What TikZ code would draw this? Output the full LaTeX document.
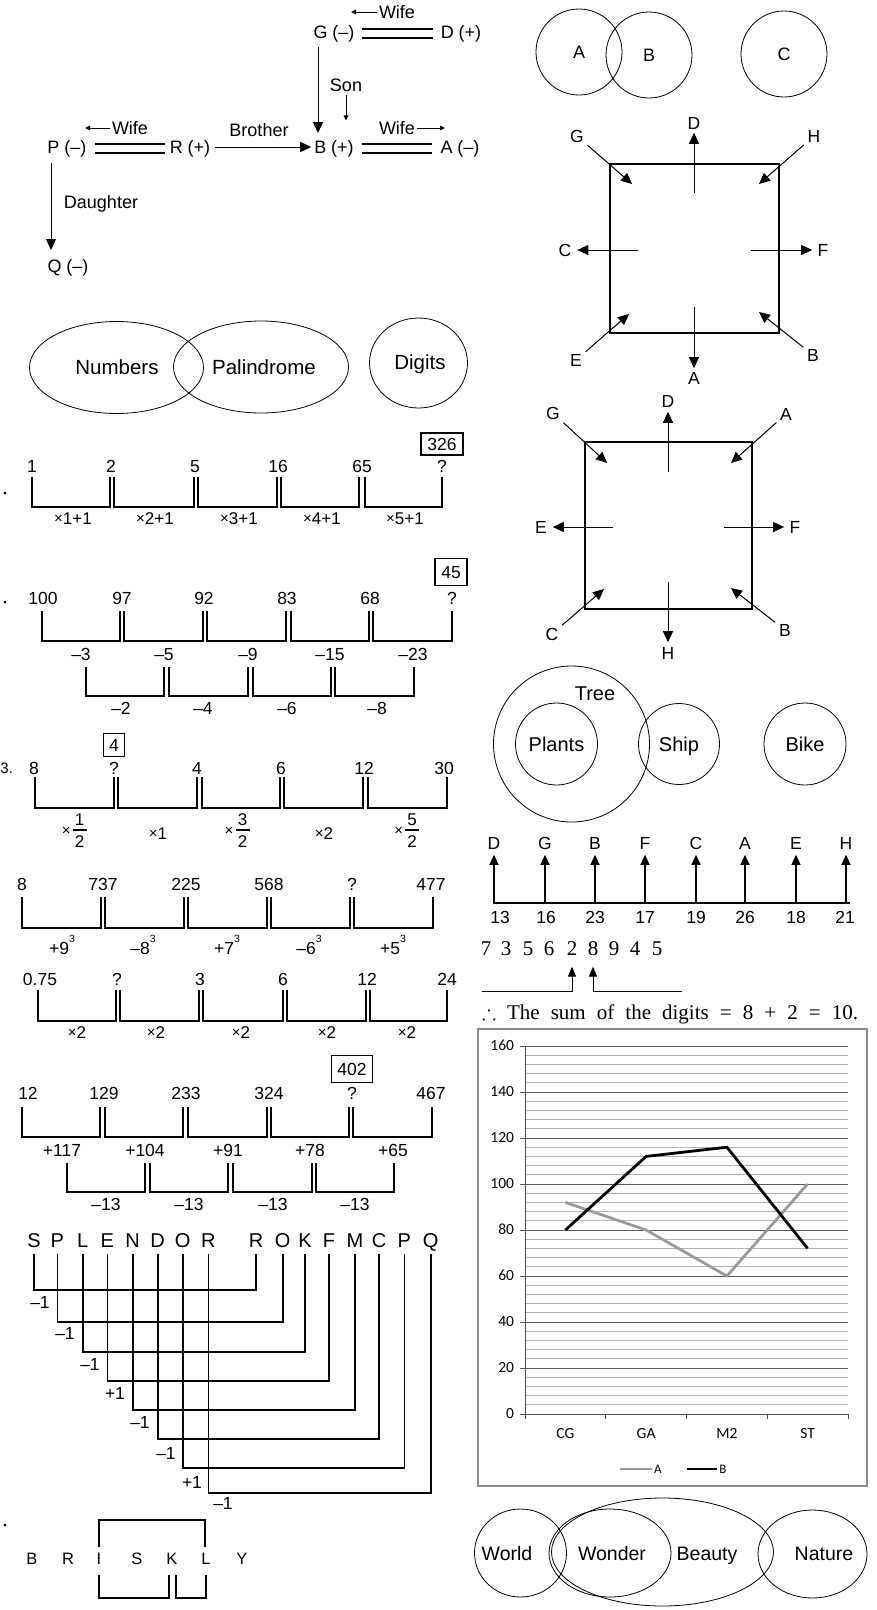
\documentclass[tikz,border=0pt]{standalone}
\usepackage{amssymb}
\usepackage{fontspec}
\setmainfont{Liberation Sans}
\newfontfamily\serifff{Liberation Serif}
\newfontfamily\calib{Carlito}
\usetikzlibrary{arrows.meta}
\newcommand\fsz[1]{\fontsize{#1}{#1}\selectfont}
\newcommand\tms{{\fsz{15}\raisebox{0.6pt}{×}}}
\newcommand\cube{\raisebox{12pt}{\fsz{10.5}3}}
\tikzset{
  every node/.style={inner sep=0pt,outer sep=0pt},
  fs/.style={font=\fsz{#1},text height={0.72*#1pt},text depth=0pt},
  cf/.style={font=\calib\fsz{#1},text height={0.63*#1pt},text depth=0pt},
  sf/.style={font=\serifff\fsz{#1},text height={0.68*#1pt},text depth=0pt},
  br/.style={line width=1.6pt},
  brk/.style={line width=1.9pt},
  dbl/.style={line width=1.3pt},
  bigarr/.style={line width=1pt,-{Triangle[length=11pt,width=10pt]}},
  smarr/.style={line width=0.9pt,-{Triangle[length=5pt,width=4.5pt]}},
  sqarr/.style={line width=1pt,-{Triangle[length=11pt,width=10pt]}},
  rowarr/.style={line width=1.2pt,-{Triangle[length=10pt,width=9pt]}},
  digarr/.style={line width=1pt,-{Triangle[length=10pt,width=8pt]}},
  sq/.style={line width=1.7pt},
  thin/.style={line width=0.8pt},
  ansbox/.style 2 args={draw,line width=1.2pt,minimum width=#1,minimum height=#2},
}
\begin{document}
\begin{tikzpicture}[x=1pt,y=-1pt]
\useasboundingbox (0,0) rectangle (876,1610);
\fill[white] (0,0) rectangle (876,1610);

% ---------------- family tree ----------------
\node[fs=18] (G) at (334,32) {G (–)};
\node[fs=18] (D) at (461,32) {D (+)};
\node[fs=18] (W1) at (397,12) {Wife};
\draw[smarr] ([xshift=-2pt]W1.west) -- ++(-26pt,0pt);
\draw[dbl] ([xshift=7pt,yshift=3pt]G.east) -- ([xshift=-8pt,yshift=3pt]D.west);
\draw[dbl] ([xshift=7pt,yshift=-6pt]G.east) -- ([xshift=-8pt,yshift=-6pt]D.west);
\node[fs=18] (Son) at (346,85) {Son};
\draw[smarr] ([yshift=-4pt]Son.south) -- ([yshift=-29pt]Son.south);
\node[fs=18] (P) at (67,147) {P (–)};
\node[fs=18] (R) at (190,147) {R (+)};
\node[fs=18] (B) at (334,147) {B (+)};
\node[fs=18] (A) at (460,147) {A (–)};
\node[fs=18] (Q) at (68,266) {Q (–)};
\draw[bigarr] ([xshift=-16pt,yshift=-8.5pt]G.south) -- ([xshift=-16pt,yshift=7.5pt]B.north);
\draw[dbl] ([xshift=8.5pt,yshift=3pt]P.east) -- ([xshift=-4.5pt,yshift=3pt]R.west);
\draw[dbl] ([xshift=8.5pt,yshift=-6pt]P.east) -- ([xshift=-4.5pt,yshift=-6pt]R.west);
\node[fs=18] (W2) at (130,128) {Wife};
\draw[smarr] ([xshift=-2pt]W2.west) -- ++(-25pt,0pt);
\draw[bigarr] ([xshift=5pt]R.east) -- ([xshift=-3pt]B.west);
\node[fs=18] (Bro) at (259,130) {Brother};
\draw[dbl] ([xshift=8pt,yshift=3pt]B.east) -- ([xshift=-8.5pt,yshift=3pt]A.west);
\draw[dbl] ([xshift=8pt,yshift=-6pt]B.east) -- ([xshift=-8.5pt,yshift=-6pt]A.west);
\node[fs=18] (W3) at (397,128) {Wife};
\draw[smarr] ([xshift=2pt]W3.east) -- ++(28pt,0pt);
\draw[bigarr] ([xshift=-16pt,yshift=-9.5pt]P.south) -- ([xshift=-17pt,yshift=9.5pt]Q.north);
\node[fs=18] (Dau) at (101,202) {Daughter};

% ---------------- top right circles ----------------
\node[draw,thin,circle,minimum size=86pt,fs=18] (cA) at (579,52) {A};
\node[draw,thin,circle,minimum size=86pt,fs=18] (cB) at (649,55) {B};
\node[draw,thin,circle,minimum size=86pt,fs=18] (cC) at (784,54) {C};

% ---------------- square 1 ----------------
\draw[sq] (610,164) rectangle (779,333);
\node[fs=17.5] (s1D) at (694,123) {D};
\node[fs=17.5] (s1G) at (577,136) {G};
\node[fs=17.5] (s1H) at (814,136) {H};
\node[fs=17.5] (s1C) at (565,250) {C};
\node[fs=17.5] (s1F) at (823,250) {F};
\node[fs=17.5] (s1E) at (576,360) {E};
\node[fs=17.5] (s1B) at (813,355) {B};
\node[fs=17.5] (s1A) at (694,378) {A};
\coordinate (s1d) at (694,193);
\coordinate (s1g) at (632,184);
\coordinate (s1h) at (759,184);
\coordinate (s1c) at (638,250);
\coordinate (s1f) at (751,250);
\coordinate (s1e) at (629,314);
\coordinate (s1b) at (759,312);
\coordinate (s1a) at (694,307);
\draw[sqarr,shorten >=3.5pt] (s1d) -- (s1D);
\draw[sqarr,shorten <=5pt] (s1G) -- (s1g);
\draw[sqarr,shorten <=5pt] (s1H) -- (s1h);
\draw[sqarr,shorten >=6pt] (s1c) -- (s1C);
\draw[sqarr,shorten >=5.5pt] (s1f) -- (s1F);
\draw[sqarr,shorten <=5pt] (s1E) -- (s1e);
\draw[sqarr,shorten <=5pt] (s1B) -- (s1b);
\draw[sqarr,shorten >=3.5pt] (s1a) -- (s1A);

% ---------------- Numbers / Palindrome / Digits ----------------
\draw[thin] (116.5,367.5) ellipse [x radius=87pt, y radius=46pt];
\draw[thin] (261,367) ellipse [x radius=87.5pt, y radius=46pt];
\draw[thin] (418.5,363) ellipse [x radius=49pt, y radius=45pt];
\node[fs=20.5] (tNum) at (117,367) {Numbers};
\node[fs=20.5] (tPal) at (264,367) {Palindrome};
\node[fs=20.5] (tDig) at (420,362) {Digits};

% ---------------- series 1 ----------------
\fill (5,493) circle[radius=1.5pt];
\foreach \x/\t [count=\i] in {32/1,111/2,195/5,278/16,362/65,442/?}
  \node[fs=17.5] (sa\i) at (\x,466) {\t};
\node[fs=17.5,ansbox={42pt}{22pt}] (saB) at (442,444) {326};
\foreach \a/\b in {32/110,114/194,198/277,281/359,365/442}
  \draw[br] (\a,477) |- (\b,507) -- (\b,477);
\foreach \x/\t [count=\i] in {73/1,155/2,239/3,322/4,405/5}
  \node[fs=17] (sal\i) at (\x,518) {\tms\t+1};

% ---------------- series 2 ----------------
\fill (5,602) circle[radius=1.5pt];
\foreach \x/\t [count=\i] in {43/100,122/97,204/92,287/83,370/68,452/?}
  \node[fs=17.5] (sb\i) at (\x,598) {\t};
\node[fs=17.5,ansbox={32pt}{27pt}] (sbB) at (451,572) {45};
\foreach \a/\b in {42/120,124/203,207/286,291/369,373/452}
  \draw[br] (\a,611) |- (\b,641) -- (\b,611);
\foreach \x/\t [count=\i] in {81/–3,164/–5,248/–9,330/–15,413/–23}
  \node[fs=17.5] (sbl\i) at (\x,654) {\t};
\foreach \a/\b in {86/164,169/248,253/331,335/414}
  \draw[br] (\a,667) |- (\b,696) -- (\b,667);
\foreach \x/\t [count=\i] in {121/–2,203/–4,287/–6,377/–8}
  \node[fs=17.5] (sbm\i) at (\x,708) {\t};

% ---------------- square 2 ----------------
\draw[sq] (585,442) rectangle (752,609);
\node[fs=17.5] (s2D) at (668,401) {D};
\node[fs=17.5] (s2G) at (553,413) {G};
\node[fs=17.5] (s2A) at (786,414) {A};
\node[fs=17.5] (s2E) at (541,527) {E};
\node[fs=17.5] (s2F) at (795,527) {F};
\node[fs=17.5] (s2C) at (552,634) {C};
\node[fs=17.5] (s2B) at (785,630) {B};
\node[fs=17.5] (s2H) at (668,653) {H};
\coordinate (s2d) at (668,472);
\coordinate (s2g) at (607,463);
\coordinate (s2a) at (731,463);
\coordinate (s2e) at (613,527);
\coordinate (s2f) at (724,527);
\coordinate (s2c) at (604,589);
\coordinate (s2b) at (731,588);
\coordinate (s2h) at (668,582);
\draw[sqarr,shorten >=4.5pt] (s2d) -- (s2D);
\draw[sqarr,shorten <=5pt] (s2G) -- (s2g);
\draw[sqarr,shorten <=5pt] (s2A) -- (s2a);
\draw[sqarr,shorten >=6pt] (s2e) -- (s2E);
\draw[sqarr,shorten >=5.5pt] (s2f) -- (s2F);
\draw[sqarr,shorten <=5pt] (s2C) -- (s2c);
\draw[sqarr,shorten <=5pt] (s2B) -- (s2b);
\draw[sqarr,shorten >=4.5pt] (s2h) -- (s2H);

% ---------------- Tree / Plants / Ship / Bike ----------------
\draw[thin] (571.5,744) circle[radius=78pt];
\node[draw,thin,circle,minimum size=82pt,fs=20] (cPl) at (556.5,744) {Plants};
\node[draw,thin,circle,minimum size=81pt,fs=20] (cSh) at (679,744) {Ship};
\node[draw,thin,circle,minimum size=82pt,fs=20] (cBi) at (805,744) {Bike};
\node[fs=20] (tTree) at (595,693) {Tree};

% ---------------- series 3 ----------------
\node[fs=15,anchor=west] (q3) at (0.5,768) {3.};
\foreach \x/\t [count=\i] in {34/8,114/?,197/4,281/6,364/12,444/30}
  \node[fs=17.5] (sc\i) at (\x,768) {\t};
\node[fs=17.5,ansbox={21pt}{23pt}] (scB) at (114,745) {4};
\foreach \a/\b in {35/114,118/197,202/280,284/363,368/447}
  \draw[br] (\a,777) |- (\b,808) -- (\b,777);
\foreach \x/\n/\d [count=\i] in {79.7/1/2,242.5/3/2,412.2/5/2}{
  \node[fs=15] (scx\i) at (\x-13.5,830) {×};
  \node[fs=17] (scn\i) at (\x,819.5) {\n};
  \draw[line width=1.2pt] (\x-7,830) -- (\x+7,830);
  \node[fs=17] (scd\i) at (\x,841) {\d};
}
\node[fs=17] (scl1) at (158,833) {\tms1};
\node[fs=17] (scl2) at (324,833) {\tms2};

% ---------------- series 4 ----------------
\foreach \x/\t [count=\i] in {22/8,103/737,186/225,269/568,352/?,431/477}
  \node[fs=17.5] (sd\i) at (\x,884) {\t};
\foreach \a/\b in {22/101,105/184,188/267,271/350,354/433}
  \draw[brk] (\a,897) |- (\b,928) -- (\b,897);
\foreach \x/\t [count=\i] in {62/+9,143/–8,227/+7,309/–6,393/+5}
  \node[fs=17.5] (sdl\i) at (\x,948) {\t\cube};

% ---------------- series 5 ----------------
\foreach \x/\t [count=\i] in {40/0.75,117/?,200/3,283/6,367/12,447/24}
  \node[fs=17.5] (se\i) at (\x,979) {\t};
\foreach \a/\b in {38/116,120/199,203/283,287/366,370/447}
  \draw[br] (\a,990) |- (\b,1021) -- (\b,990);
\foreach \x [count=\i] in {77,156,241,327,407}
  \node[fs=17] (sel\i) at (\x,1032) {\tms2};

% ---------------- series 6 ----------------
\foreach \x/\t [count=\i] in {28/12,104/129,186/233,269/324,352/?,431/467}
  \node[fs=17.5] (sf\i) at (\x,1093) {\t};
\node[fs=17.5,ansbox={41pt}{27pt}] (sfB) at (352,1069) {402};
\foreach \a/\b in {22/100,105/183,188/267,271/349,353/432}
  \draw[br] (\a,1107) |- (\b,1137) -- (\b,1107);
\foreach \x/\t [count=\i] in {62/+117,145/+104,228/+91,310/+78,393/+65}
  \node[fs=17.5] (sfl\i) at (\x,1150) {\t};
\foreach \a/\b in {67/145,150/228,233/312,316/394}
  \draw[br] (\a,1163) |- (\b,1192) -- (\b,1163);
\foreach \x [count=\i] in {106,189,273,355}
  \node[fs=17.5] (sfm\i) at (\x,1204) {–13};

% ---------------- SPLENDOR / ROKFMCPQ ----------------
\foreach \x/\l [count=\i] in {34/S,57.3/P,82.7/L,107.3/E,132.7/N,157.7/D,182.7/O,208.3/R,256/R,282.7/O,305/K,329/F,355/M,379/C,404.3/P,430.7/Q}
  \node[fs=20] (sp\i) at (\x,1240) {\l};
\foreach \i/\h in {1/1290,2/1322,3/1352,4/1381,5/1410,6/1439,7/1468,8/1493}{
  \pgfmathtruncatemacro\j{\i+8}
  \coordinate (hh\i) at (0,\h);
  \draw[br] ([yshift=-7pt]sp\i.south) -- (sp\i.south |- hh\i) -- (sp\j.south |- hh\i) -- ([yshift=-7pt]sp\j.south);
}
\foreach \x/\y/\t [count=\i] in {40/1302/–1,65/1333/–1,90/1364/–1,115/1393/+1,140/1422/–1,166/1453/–1,192/1482/+1,223/1503/–1}
  \node[fs=17.5] (spl\i) at (\x,\y) {\t};

% ---------------- BRISKLY ----------------
\fill (5,1525) circle[radius=1.5pt];
\foreach \x/\l [count=\i] in {32/B,68/R,99/I,137/S,172/K,206/L,242/Y}
  \node[fs=16.5] (bk\i) at (\x,1559) {\l};
\coordinate (t1) at (0,1520);
\coordinate (t2) at (0,1598);
\coordinate (k1) at ([xshift=-3pt]bk5.south);
\coordinate (k2) at ([xshift=4pt]bk5.south);
\coordinate (l1) at ([xshift=-1pt]bk6.north);
\draw[br] ([yshift=6pt]bk3.north) -- (bk3.north |- t1) -- (l1 |- t1) -- ([yshift=6pt]l1);
\draw[br] ([yshift=-10pt]bk3.south) -- (bk3.south |- t2) -- (k1 |- t2) -- ([yshift=-10pt]k1);
\draw[br] ([yshift=-10pt]k2) -- (k2 |- t2) -- (bk6.south |- t2) -- ([yshift=-10pt]bk6.south);

% ---------------- D G B F row ----------------
\foreach \x/\l [count=\i] in {494/D,545/G,595/B,645/F,696/C,745/A,796/E,846/H}{
  \node[fs=17.5] (r\i) at (\x,843) {\l};
  \coordinate (rb\i) at (\x,903);
  \draw[rowarr] (rb\i) -- ([yshift=-5.5pt]r\i.south);
}
\coordinate (rowL) at (493,903);
\coordinate (rowR) at (850,903);
\draw[line width=1.5pt] (rowL) -- (rowR);
\foreach \x/\n [count=\i] in {500/13,546/16,595/23,645/17,696/19,745/26,796/18,845/21}
  \node[fs=17.5] (rn\i) at (\x,917) {\n};
\foreach \x/\d [count=\i] in {486/7,506/3,528/5,549/6,572/2,593/8,614/9,635/4,657/5}
  \node[sf=21] (dg\i) at (\x,948) {\d};
\coordinate (la) at (482,991);
\coordinate (ra) at (682,991);
\draw[digarr] (la) -| ([yshift=-11.5pt]dg5.south);
\draw[digarr] (ra) -| ([yshift=-11.5pt]dg6.south);
\node[sf=21,anchor=west] (sum) at (482,1012) {\makebox[376pt][s]{$\therefore$ The sum of the digits = 8 + 2 = 10.}};

% ---------------- chart ----------------
\draw[draw=black!45,line width=1.3pt] (478,1029) rectangle (867,1486);
\foreach \v in {4,8,...,160}
  \draw[black!30,line width=0.8pt] (525,{1414-2.3*\v}) -- (848,{1414-2.3*\v});
\foreach \v in {20,40,...,160}{
  \draw[black!65,line width=1pt] (520,{1414-2.3*\v}) -- (848,{1414-2.3*\v});
}
\draw[black!70,line width=1pt] (525,1046) -- (525,1414);
\draw[black!70,line width=1pt] (520,1414) -- (848,1414);
\foreach \k in {0,1,2,3,4}
  \draw[black!70,line width=1pt] ({525+80.75*\k},1414) -- ({525+80.75*\k},1419);
\foreach \v in {0,20,...,160}
  \node[cf=15.5,anchor=east] (yl\v) at (514,{1414-2.3*\v}) {\v};
\foreach \x/\c [count=\i] in {565.4/CG,646.1/GA,726.9/M2,807.6/ST}
  \node[cf=15.5] (xc\i) at (\x,1434) {\c};
\draw[black!40,line width=2.7pt,line join=round] (565.4,1202.4) -- (646.1,1230) -- (726.9,1276) -- (807.6,1184);
\draw[black,line width=2.8pt,line join=round] (565.4,1230) -- (646.1,1156.4) -- (726.9,1147.2) -- (807.6,1248.4);
\draw[black!40,line width=2.7pt] (620,1469) -- (652,1469);
\node[cf=13] (lgA) at (658,1469) {A};
\draw[black,line width=2.8pt] (687,1469) -- (717,1469);
\node[cf=13] (lgB) at (723,1469) {B};

% ---------------- World / Wonder / Beauty / Nature ----------------
\draw[thin] (520.5,1553) ellipse [x radius=46pt, y radius=44pt];
\draw[thin] (610,1553) ellipse [x radius=61pt, y radius=44pt];
\draw[thin] (662.5,1552) ellipse [x radius=111pt, y radius=54pt];
\draw[thin] (812.5,1554) ellipse [x radius=54.5pt, y radius=44pt];
\node[fs=19.5] (tWo) at (507,1553) {World};
\node[fs=19.5] (tWn) at (612,1553) {Wonder};
\node[fs=19.5] (tBe) at (707,1553) {Beauty};
\node[fs=19.5] (tNa) at (824,1553) {Nature};
\end{tikzpicture}
\end{document}
